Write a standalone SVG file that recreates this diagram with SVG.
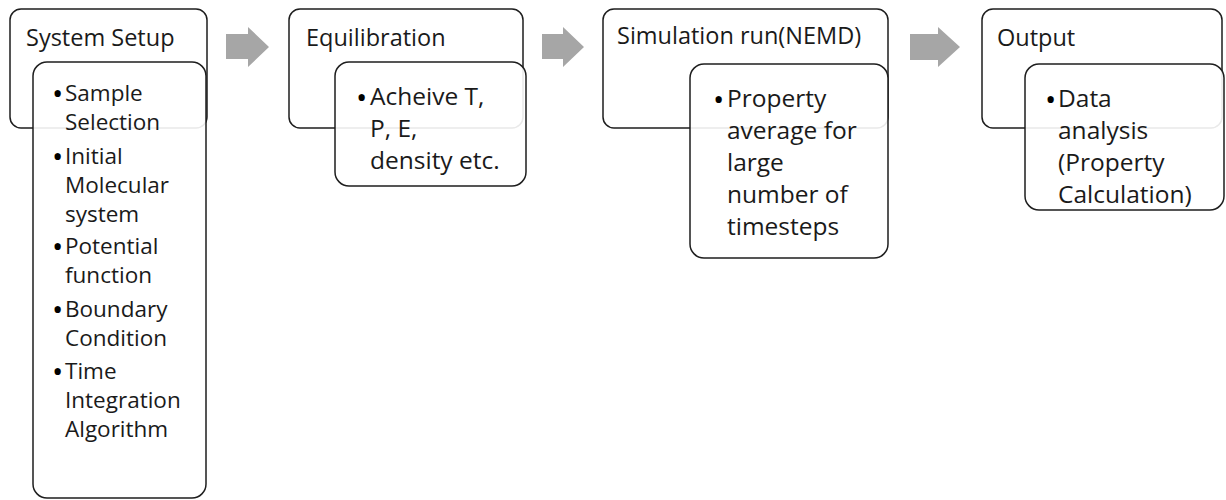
<svg xmlns="http://www.w3.org/2000/svg" width="1226" height="500" viewBox="0 0 1226 500">
<style>
.outer{fill:#fff;stroke:#1e1e1e;stroke-width:1.5}
.inner{fill:#fff;fill-opacity:0.9;stroke:#1e1e1e;stroke-width:1.5}
.hd{font-family:"Open Sans","Noto Sans",sans-serif;font-size:23.5px;fill:#1a1a1a}
.s1{font-family:"Open Sans","Noto Sans",sans-serif;font-size:22.5px;fill:#1a1a1a}
.s2{font-family:"Open Sans","Noto Sans",sans-serif;font-size:24.5px;fill:#1a1a1a}
.b{font-family:"Open Sans","Noto Sans",sans-serif;font-size:30px;fill:#000}
.arr{fill:#a6a6a6}
</style>
<rect width="1226" height="500" fill="#fff"/>
<g id="connectors">
<polygon class="arr" points="226,34 248,34 248,27 269,47 248,67 248,59 226,59"/>
<polygon class="arr" points="542,34 563,34 563,27 584,47 563,67 563,59 542,59"/>
<polygon class="arr" points="910,34 938,34 938,27 960,47 938,67 938,60 910,60"/>
</g>
<g id="system-setup">
<rect class="outer" x="10" y="9" width="197" height="119" rx="11"/>
<text class="hd" x="26" y="46">System Setup</text>
<rect class="inner" x="33" y="62" width="173" height="436" rx="14"/>
<g class="b">
<text x="52" y="104">•</text>
<text x="52" y="167">•</text>
<text x="52" y="257">•</text>
<text x="52" y="320">•</text>
<text x="52" y="382">•</text>
</g>
<g class="s1">
<text x="65" y="101">Sample</text>
<text x="65" y="130">Selection</text>
<text x="65" y="164">Initial</text>
<text x="65" y="193">Molecular</text>
<text x="65" y="222">system</text>
<text x="65" y="254">Potential</text>
<text x="65" y="283">function</text>
<text x="65" y="317">Boundary</text>
<text x="65" y="346">Condition</text>
<text x="65" y="379">Time</text>
<text x="65" y="408">Integration</text>
<text x="65" y="437">Algorithm</text>
</g>
</g>
<g id="equilibration">
<rect class="outer" x="289" y="9" width="234" height="119" rx="11"/>
<text class="hd" x="306" y="46">Equilibration</text>
<rect class="inner" x="335" y="62" width="191" height="124" rx="14"/>
<text class="b" x="356" y="108">•</text>
<g class="s2">
<text x="370" y="105">Acheive T,</text>
<text x="370" y="137">P, E,</text>
<text x="370" y="169">density etc.</text>
</g>
</g>
<g id="simulation-run">
<rect class="outer" x="603" y="9" width="285" height="119" rx="11"/>
<text class="hd" x="617" y="44">Simulation run(NEMD)</text>
<rect class="inner" x="690" y="64" width="198" height="194" rx="14"/>
<text class="b" x="713" y="110">•</text>
<g class="s2">
<text x="727" y="107">Property</text>
<text x="727" y="139">average for</text>
<text x="727" y="171">large</text>
<text x="727" y="203">number of</text>
<text x="727" y="235">timesteps</text>
</g>
</g>
<g id="output">
<rect class="outer" x="982" y="9" width="240" height="119" rx="11"/>
<text class="hd" x="997" y="46">Output</text>
<rect class="inner" x="1025" y="64" width="199" height="146" rx="14"/>
<text class="b" x="1045" y="110">•</text>
<g class="s2">
<text x="1058" y="107">Data</text>
<text x="1058" y="139">analysis</text>
<text x="1058" y="171">(Property</text>
<text x="1058" y="203">Calculation)</text>
</g>
</g>
</svg>
